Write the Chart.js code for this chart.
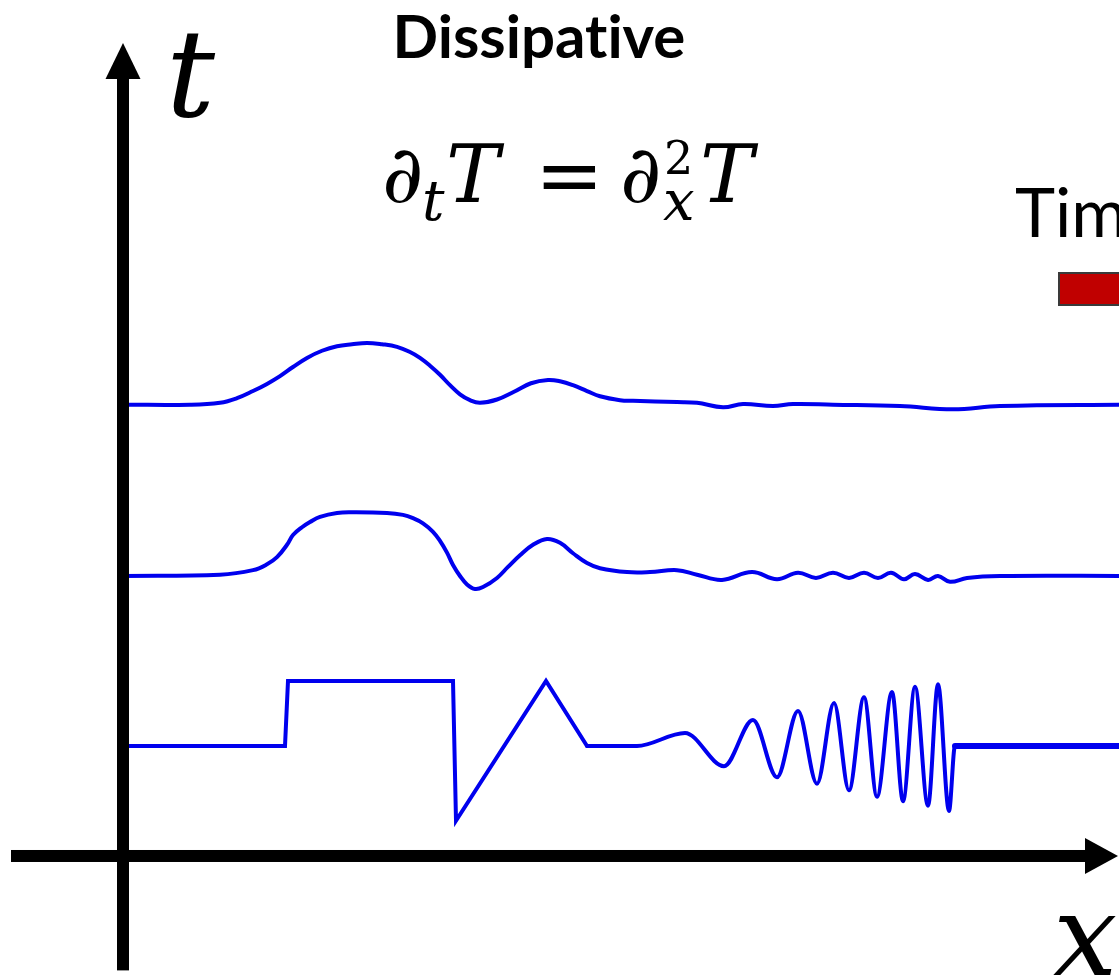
<!DOCTYPE html>
<html>
<head>
<meta charset="utf-8">
<script src="https://cdn.jsdelivr.net/npm/chart.js@4.4.0/dist/chart.umd.min.js"></script>
<style>
  html, body { margin: 0; padding: 0; background: #fff; overflow: hidden; }
  #wrap { position: relative; width: 1119px; height: 979px; }
</style>
</head>
<body>
<div id="wrap"><canvas id="c"></canvas></div>
<script>
// Time level of each profile (vertical offset on the t axis)
const levelInitial = 0;
const levelEarly = 1;
const levelLate = 2;

// Initial profile, piecewise-linear part: step, sawtooth, flat
const xInitSharp = [0, 1.62, 1.65, 3.30, 3.33, 4.23, 4.64];
const tempInitSharp = [0, 0, 1, 1, -1.15, 1, 0];

// Initial profile, chirp part (growing amplitude, rising frequency)
const xInitChirp = [4.64, 5.14, 5.62, 6.01, 6.30, 6.54, 6.75, 6.94, 7.11, 7.26, 7.41, 7.54, 7.69, 7.80, 7.92, 8.05, 8.15, 8.26, 8.32, 10.05];
const tempInitChirp = [0, 0, 0.20, -0.31, 0.40, -0.48, 0.54, -0.58, 0.66, -0.68, 0.75, -0.78, 0.83, -0.85, 0.91, -0.92, 0.95, -1.00, 0, 0];

// Profile after a short diffusion time
const xEarly = [0, 0.97, 1.30, 1.44, 1.54, 1.64, 1.70, 1.79, 1.87, 1.97,
  2.14, 2.30, 2.64, 2.80, 2.90, 3.00, 3.10, 3.17, 3.24, 3.30,
  3.37, 3.44, 3.52, 3.60, 3.74, 3.85, 3.97, 4.10, 4.24, 4.37,
  4.50, 4.64, 4.77, 5.04, 5.27, 5.54, 5.74, 5.99, 6.29, 6.54,
  6.75, 6.93, 7.10, 7.26, 7.41, 7.55, 7.68, 7.81, 7.92, 8.05,
  8.15, 8.27, 8.44, 8.77, 10.05];
const tempEarly = [0, 0.02, 0.09, 0.18, 0.29, 0.48, 0.63, 0.75, 0.83, 0.91,
  0.97, 0.98, 0.97, 0.94, 0.89, 0.81, 0.68, 0.54, 0.36, 0.17,
  0.00, -0.13, -0.20, -0.17, -0.03, 0.14, 0.32, 0.48, 0.57, 0.51,
  0.35, 0.20, 0.12, 0.06, 0.06, 0.09, 0.02, -0.06, 0.06, -0.05,
  0.05, -0.03, 0.05, -0.03, 0.05, -0.03, 0.05, -0.05, 0.03, -0.06,
  0, -0.09, -0.03, 0, 0];

// Profile after a longer diffusion time
const xLate = [0, 0.67, 0.97, 1.14, 1.30, 1.44, 1.57, 1.70, 1.84, 1.99,
  2.14, 2.29, 2.44, 2.59, 2.74, 2.87, 2.97, 3.07, 3.17, 3.27,
  3.37, 3.47, 3.57, 3.74, 3.91, 4.08, 4.25, 4.37,
  4.50, 4.64, 4.77, 4.97, 5.10, 5.54, 5.74, 6.00, 6.20, 6.50,
  6.70, 7.10, 7.77, 8.30, 8.77, 10.05];
const tempLate = [0.02, 0.02, 0.05, 0.12, 0.23, 0.34, 0.46, 0.60, 0.74, 0.85,
  0.92, 0.95, 0.97, 0.95, 0.91, 0.83, 0.74, 0.62, 0.48, 0.32,
  0.18, 0.09, 0.05, 0.10, 0.22, 0.35, 0.40, 0.38,
  0.32, 0.23, 0.15, 0.09, 0.08, 0.06, 0.05, -0.02, 0.03, 0,
  0.03, 0.02, 0, -0.05, 0, 0.02];

// Axis extents
const xAxisRange = [-1.12, 9.95];
const tAxisRange = [-1.32, 4.135];
const xAxisAtT = -0.647;

// Vertical scale of the temperature profile relative to one time step
const AMP = 0.3824;
const BLUE = '#0000ee';

function profile(xs, temps, level) {
  return xs.map((x, i) => ({ x: x, y: level + temps[i] * AMP }));
}

const decorations = {
  id: 'decorations',
  afterDatasetsDraw(chart) {
    const { ctx } = chart;
    const xs = chart.scales.x, ys = chart.scales.y;
    const X = v => xs.getPixelForValue(v);
    const Y = v => ys.getPixelForValue(v);
    ctx.save();
    ctx.fillStyle = '#000';

    // vertical (t) axis with arrowhead
    const ax = X(0);
    const tTop = Y(tAxisRange[1]);
    const tBot = Y(tAxisRange[0]);
    ctx.fillRect(ax - 6, tTop + 35, 12, tBot - tTop - 35);
    ctx.beginPath();
    ctx.moveTo(ax, tTop);
    ctx.lineTo(ax - 17.5, tTop + 36);
    ctx.lineTo(ax + 17.5, tTop + 36);
    ctx.closePath();
    ctx.fill();

    // horizontal (x) axis with arrowhead
    const ay = Y(xAxisAtT);
    const xL = X(xAxisRange[0]);
    const xR = X(xAxisRange[1]);
    ctx.fillRect(xL, ay - 6, xR - xL - 32, 12);
    ctx.beginPath();
    ctx.moveTo(xR, ay);
    ctx.lineTo(xR - 33, ay - 18);
    ctx.lineTo(xR - 33, ay + 18);
    ctx.closePath();
    ctx.fill();

    // axis letters
    ctx.textBaseline = 'alphabetic';
    ctx.textAlign = 'left';
    ctx.font = 'italic 122px "DejaVu Serif"';
    ctx.fillText('t', 166, 116);
    ctx.font = 'italic 114px "DejaVu Serif"';
    ctx.fillText('x', 1053, 975);

    // title (ZWNJ keeps "t" and "i" as separate glyphs)
    ctx.textAlign = 'center';
    ctx.font = 'bold 60px Lato';
    ctx.fillText('Dissipat\u200Cive', 539, 58);

    // heat equation
    ctx.textAlign = 'left';
    ctx.font = 'italic 80px "DejaVu Serif"';
    ctx.fillText('\u2202', 382, 202);
    ctx.fillText('T', 446, 202);
    ctx.fillText('\u2202', 620, 202);
    ctx.fillText('T', 700, 202);
    ctx.font = '82px "DejaVu Serif"';
    ctx.fillText('=', 535, 203);
    ctx.font = 'italic 56px "DejaVu Serif"';
    ctx.fillText('t', 422, 220);
    ctx.fillText('x', 663, 220);
    ctx.font = '46px "DejaVu Serif"';
    ctx.fillText('2', 664, 174);

    // legend
    ctx.font = '68px Lato';
    ctx.fillText('Time', 1015, 237);
    ctx.fillStyle = '#c00000';
    ctx.fillRect(1059, 273, 80, 32);
    ctx.strokeStyle = '#3a3a3a';
    ctx.lineWidth = 2;
    ctx.strokeRect(1059, 273, 80, 32);
    ctx.restore();
  }
};

const lineStyle = {
  borderColor: BLUE,
  borderWidth: 4,
  pointRadius: 0,
  fill: false,
  borderJoinStyle: 'round',
  borderCapStyle: 'round'
};

new Chart(document.getElementById('c'), {
  type: 'line',
  data: {
    datasets: [
      Object.assign({ label: 'late', data: profile(xLate, tempLate, levelLate), tension: 0.4 }, lineStyle),
      Object.assign({ label: 'early', data: profile(xEarly, tempEarly, levelEarly), tension: 0.4 }, lineStyle),
      Object.assign({ label: 'initial', data: profile(xInitSharp, tempInitSharp, levelInitial), tension: 0 }, lineStyle, { borderJoinStyle: 'miter' }),
      Object.assign({
        label: 'initial chirp', data: profile(xInitChirp, tempInitChirp, levelInitial), cubicInterpolationMode: 'monotone',
        segment: { borderWidth: c => (c.p0.parsed.x >= 8.3 ? 6 : 4) }
      }, lineStyle)
    ]
  },
  options: {
    responsive: true,
    maintainAspectRatio: false,
    animation: false,
    events: [],
    layout: { padding: 0 },
    plugins: { legend: { display: false }, title: { display: false }, tooltip: { enabled: false } },
    scales: {
      x: { type: 'linear', min: -1.23, max: 9.96, display: false },
      y: { type: 'linear', min: -1.3706, max: 4.3882, display: false }
    }
  },
  plugins: [decorations]
});
</script>
</body>
</html>
